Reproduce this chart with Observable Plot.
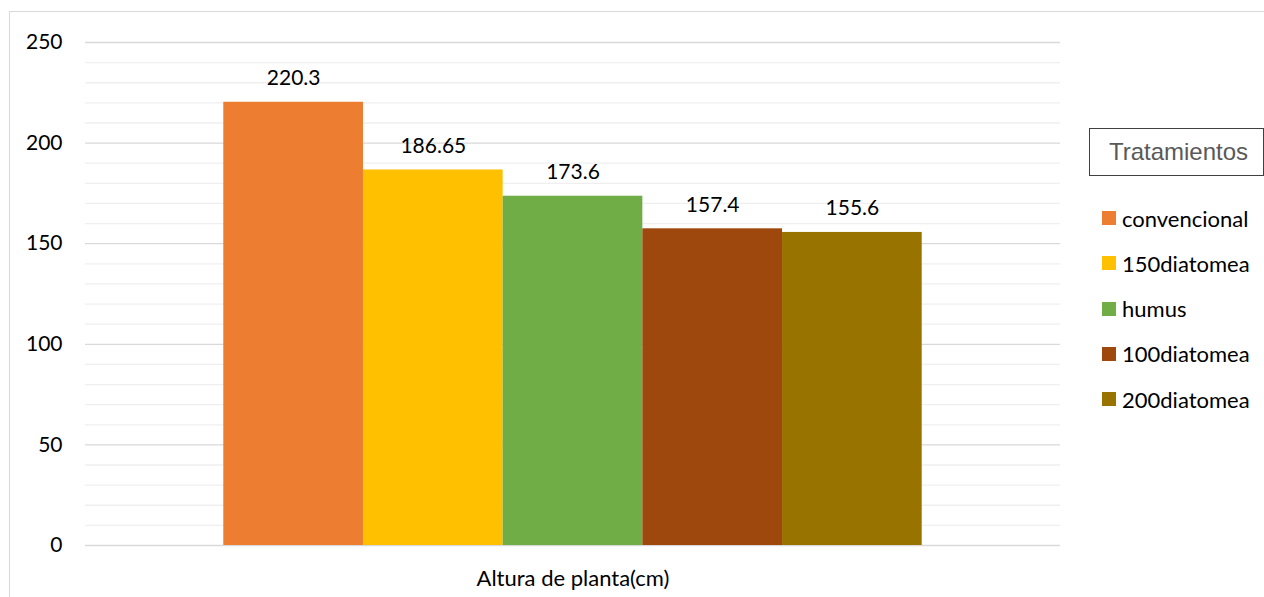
<!DOCTYPE html>
<html><head><meta charset="utf-8">
<script src="https://cdn.jsdelivr.net/npm/d3@7"></script>
<script src="https://cdn.jsdelivr.net/npm/@observablehq/plot@0.6"></script>
<style>
body{margin:0;background:#fff;}
#wrap{position:relative;width:1264px;height:597px;overflow:hidden;font-family:Lato,sans-serif;}
#frame{position:absolute;left:9px;top:11px;width:1300px;height:700px;border:1.5px solid #d9d9d9;box-sizing:border-box;}
#chart{position:absolute;left:0;top:0;}
#legTitle{position:absolute;left:1089px;top:128px;width:175px;height:48px;border:1px solid #404040;box-sizing:border-box;
  font-family:"Liberation Sans",Arial,sans-serif;font-size:24px;color:#595959;display:flex;align-items:center;justify-content:center;padding-left:4px;}
.item{position:absolute;left:1102px;height:24px;display:flex;align-items:center;font-size:22px;color:#000;}
.sw{width:14px;height:14px;margin-right:6px;}
</style></head>
<body>
<div id="wrap">
  <div id="frame"></div>
  <div id="chart"></div>
  <div id="legTitle"></div>
</div>
<script>
const category = "Altura de planta(cm)";
const treatments = ["convencional","150diatomea","humus","100diatomea","200diatomea"];
const values = [220.3,186.65,173.6,157.4,155.6];
const colors = ["#ED7D31","#FFC000","#70AD47","#9E480E","#997300"];
const majorTicks = [0,50,100,150,200,250];
const minorTicks = [10,20,30,40,60,70,80,90,110,120,130,140,160,170,180,190,210,220,230,240];
const legendTitle = "Tratamientos";

const data = treatments.map((t,i)=>({category, treatment:t, value:values[i]}));

const chart = Plot.plot({
  width:1264, height:597,
  marginLeft:85, marginRight:204, marginTop:42, marginBottom:52,
  style:{fontFamily:"Lato, sans-serif", fontSize:"21px", color:"#000", background:"transparent"},
  fx:{domain:[category], padding:0, round:false, label:null, axis:"bottom", tickSize:0, tickPadding:25},
  x:{domain:treatments, paddingInner:0, paddingOuter:0.99, round:false, axis:null},
  y:{domain:[0,250], ticks:majorTicks, tickSize:0, tickPadding:23, label:null},
  color:{domain:treatments, range:colors},
  marks:[
    Plot.ruleY(minorTicks,{stroke:"#efefef", strokeWidth:1.3}),
    Plot.ruleY(majorTicks,{stroke:"#d9d9d9", strokeWidth:1.3}),
    Plot.barY(data,{fx:"category", x:"treatment", y:"value", fill:"treatment"}),
    Plot.text(data,{fx:"category", x:"treatment", y:"value", text:d=>String(d.value), dy:-24, fontSize:21, fill:"#000"})
  ]
});
document.getElementById("chart").appendChild(chart);
chart.querySelectorAll("[aria-label='fx-axis tick label'] text").forEach(t=>t.setAttribute("font-size","22"));

document.getElementById("legTitle").textContent = legendTitle;
const wrap = document.getElementById("wrap");
treatments.forEach((t,i)=>{
  const it = document.createElement("div");
  it.className = "item";
  it.style.top = (218 + 45.3*i - 12) + "px";
  const sw = document.createElement("div");
  sw.className = "sw";
  sw.style.background = colors[i];
  it.appendChild(sw);
  const tx = document.createElement("span");
  tx.textContent = t;
  it.appendChild(tx);
  wrap.appendChild(it);
});
</script>
</body></html>
